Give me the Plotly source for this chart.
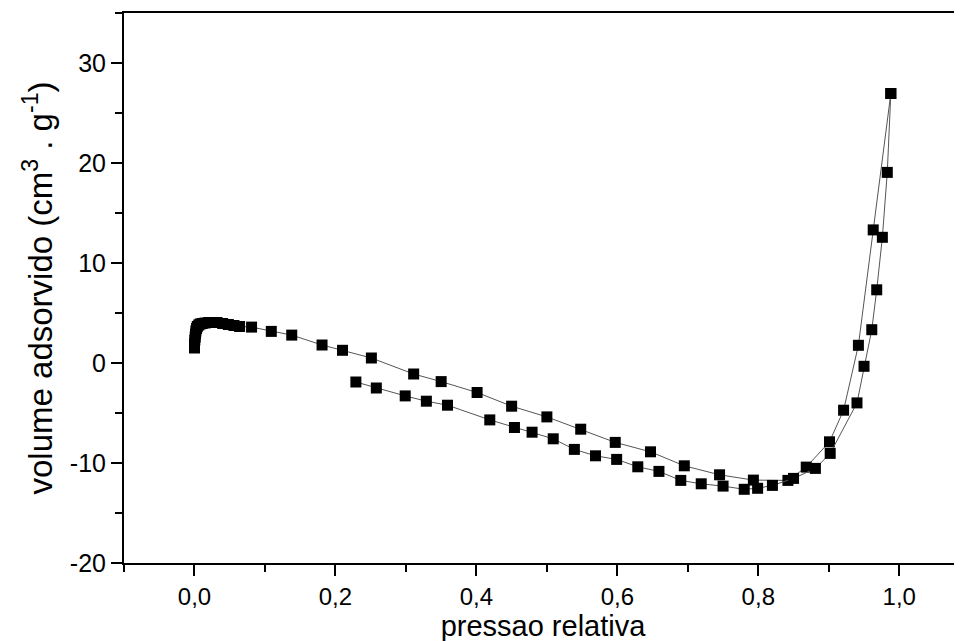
import plotly.graph_objects as go

# Branch 1 (starts near p/p0 = 0)
x_branch1 = [0.0, 0.0, 0.0005, 0.001, 0.0015, 0.002, 0.003, 0.004, 0.006, 0.008, 0.011,
             0.015, 0.02, 0.026, 0.032, 0.04, 0.048, 0.056, 0.064,
             0.081, 0.109, 0.138, 0.181, 0.210, 0.251, 0.311, 0.350, 0.401, 0.450,
             0.500, 0.548, 0.597, 0.647, 0.695, 0.745, 0.793, 0.842, 0.868, 0.901,
             0.921, 0.942, 0.963, 0.988]
y_branch1 = [1.5, 1.9, 2.3, 2.6, 2.9, 3.2, 3.45, 3.65, 3.8, 3.9, 3.95,
             4.0, 4.05, 4.05, 4.05, 3.95, 3.85, 3.75, 3.65,
             3.59, 3.16, 2.79, 1.80, 1.27, 0.50, -1.10, -1.86, -2.95, -4.32,
             -5.39, -6.62, -7.94, -8.88, -10.28, -11.18, -11.71, -11.74, -10.41, -7.88,
             -4.72, 1.77, 13.31, 26.95]

# Branch 2 (lower branch)
x_branch2 = [0.229, 0.258, 0.299, 0.329, 0.359, 0.419, 0.454, 0.479, 0.509, 0.539,
             0.569, 0.599, 0.629, 0.659, 0.690, 0.719, 0.750, 0.780, 0.799, 0.820,
             0.850, 0.881, 0.902, 0.940, 0.950, 0.961, 0.968, 0.976, 0.983, 0.988]
y_branch2 = [-1.90, -2.50, -3.29, -3.82, -4.22, -5.69, -6.45, -6.92, -7.58, -8.64,
             -9.28, -9.64, -10.38, -10.84, -11.74, -12.08, -12.31, -12.63, -12.53, -12.24,
             -11.54, -10.54, -9.04, -3.99, -0.33, 3.33, 7.32, 12.57, 19.06, 26.95]

x_tickvals = [0.0, 0.2, 0.4, 0.6, 0.8, 1.0]
x_ticktext = ["0,0", "0,2", "0,4", "0,6", "0,8", "1,0"]
y_tickvals = [-20, -10, 0, 10, 20, 30]
y_ticktext = ["-20", "-10", "0", "10", "20", "30"]

FONT = "Arial, Liberation Sans, sans-serif"

fig = go.Figure()
for xs, ys in [(x_branch1, y_branch1), (x_branch2, y_branch2)]:
    fig.add_trace(go.Scatter(
        x=xs, y=ys, mode="lines+markers",
        line=dict(color="#555555", width=1),
        marker=dict(symbol="square", size=11, color="black", line=dict(width=0)),
        showlegend=False,
    ))

# the page body adds an 8px offset; margins compensate for it
fig.update_layout(
    width=962, height=641,
    margin=dict(l=116, r=8, t=5, b=86),
    paper_bgcolor="white", plot_bgcolor="white",
    font=dict(family=FONT, color="black"),
)
fig.update_xaxes(
    automargin=False,
    range=[-0.1, 1.089],
    tickvals=x_tickvals, ticktext=x_ticktext,
    ticks="outside", ticklen=11, tickwidth=2, tickcolor="black",
    minor=dict(ticks="outside", ticklen=7, tickwidth=2, tickcolor="black", dtick=0.1, tick0=-0.1),
    showline=True, linecolor="black", linewidth=2, mirror=True,
    showgrid=False, zeroline=False,
    tickfont=dict(size=24, family=FONT),
    title=dict(text="pressao relativa", font=dict(size=29, family=FONT), standoff=0),
)
fig.update_yaxes(
    automargin=False,
    range=[-20, 35],
    tickvals=y_tickvals, ticktext=y_ticktext,
    ticks="outside", ticklen=11, tickwidth=2, tickcolor="black",
    minor=dict(ticks="outside", ticklen=7, tickwidth=2, tickcolor="black", dtick=5, tick0=-20),
    showline=True, linecolor="black", linewidth=2, mirror=False,
    showgrid=False, zeroline=False,
    tickfont=dict(size=25, family=FONT),
    title=dict(text="volume adsorvido (cm<sup>3</sup> . g<sup>-1</sup>)",
               font=dict(size=33, family=FONT), standoff=7),
)

fig.write_html("out.html")
